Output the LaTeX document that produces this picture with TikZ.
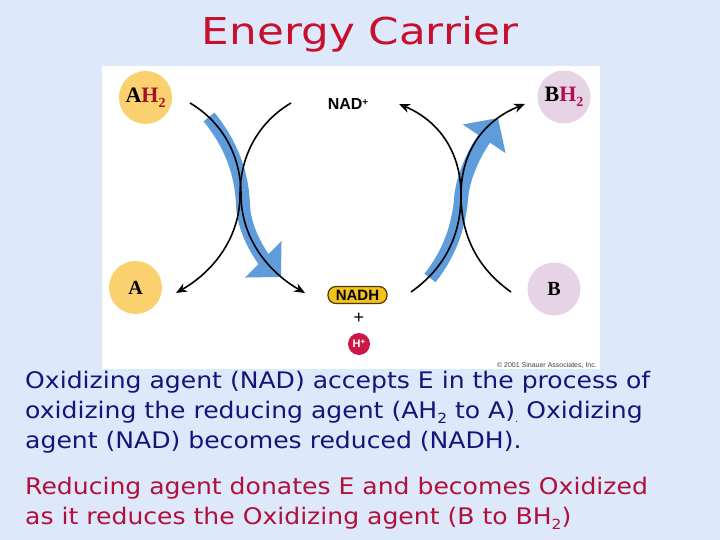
\documentclass[tikz,border=0pt]{standalone}
\usepackage{fontspec}
\setmainfont{DejaVu Sans}[FakeStretch=1.1]
\newfontfamily\titlefont{DejaVu Sans}[FakeStretch=1.18]
\newfontfamily\tnr{Liberation Serif}
\newfontfamily\arl{Liberation Sans}
\usetikzlibrary{arrows.meta}
\definecolor{bgblue}{HTML}{DDE8FA}
\definecolor{titlered}{HTML}{C8102E}
\definecolor{navytxt}{HTML}{14147A}
\definecolor{redtxt}{HTML}{B0103A}
\definecolor{orangec}{HTML}{FBD06F}
\definecolor{purplec}{HTML}{E6D4E6}
\definecolor{bandblue}{HTML}{5E9CDB}
\definecolor{nadhfill}{HTML}{F4C21C}
\definecolor{nadhline}{HTML}{4A3A00}
\definecolor{hred}{HTML}{CC1848}
\definecolor{hdark}{HTML}{A0102A}
\definecolor{hcrim}{HTML}{B0104A}
\newcommand{\dsub}[1]{\raisebox{-5pt}{\fontsize{14}{14}\selectfont #1}}
\tikzset{
  molcirc/.style={circle, minimum size=53pt, inner sep=0pt, font=\tnr\bfseries\fontsize{22}{22}\selectfont},
  bodyline/.style={anchor=base west, inner sep=0pt, font=\fontsize{22.8}{30}\selectfont},
  blk/.style={draw=black, line width=1.6pt, -{Stealth[length=11pt,width=9pt]}},
  band/.style={draw=bandblue, line width=14pt, -{Triangle[length=25pt,width=50pt]}}
}
\begin{document}
\begin{tikzpicture}[x=1pt,y=-1pt]
\fill[bgblue] (0,0) rectangle (720,540);
\useasboundingbox (0,0) rectangle (720,540);
\fill[white] (102,66) rectangle (600,369);

% title
\node[anchor=base, inner sep=0pt, text=titlered, font=\titlefont\fontsize{37}{37}\selectfont] (title) at (360,45) {Energy Carrier};

% molecules
\node[molcirc, fill=orangec] (ah2) at (145.5,97.5) {A{\color{hdark}H\dsub{2}}};
\node[molcirc, fill=purplec] (bh2) at (564,97) {B{\color{hcrim}H\dsub{2}}};
\node[molcirc, fill=orangec, font=\tnr\bfseries\fontsize{20}{20}\selectfont] (a) at (135.5,287.5) {A};
\node[molcirc, fill=purplec, font=\tnr\bfseries\fontsize{20}{20}\selectfont] (b) at (554,289) {B};
\node[inner sep=0pt, font=\arl\bfseries\fontsize{16}{16}\selectfont] (nadp) at (348,104) {NAD\raisebox{4pt}{\fontsize{10}{10}\selectfont +}};
\node[draw=nadhline, line width=1.2pt, fill=nadhfill, rounded corners=8pt, minimum width=59pt, minimum height=17pt, inner sep=0pt, font=\arl\bfseries\fontsize{15}{15}\selectfont] (nadh) at (357.5,295) {NADH};
\node[inner sep=0pt, font=\arl\fontsize{18}{18}\selectfont] (plus) at (359,318) {+};
\node[circle, fill=hred, minimum size=22pt, inner sep=0pt, text=white, font=\arl\bfseries\fontsize{11}{11}\selectfont] (hp) at (359,344) {H\raisebox{3pt}{\fontsize{8}{8}\selectfont +}};
\node[anchor=base east, inner sep=0pt, text=black!75, font=\arl\fontsize{7}{7}\selectfont] (copy) at (597,367) {\textcopyright{} 2001 Sinauer Associates, Inc.};

% coordinates
\coordinate (l1s) at (190,103);  \coordinate (l1e) at (305,293);
\coordinate (l2s) at (291,103);  \coordinate (l2e) at (176,293);
\coordinate (lm1) at (241,195);  \coordinate (lm2) at (240,195);
\coordinate (r1s) at (411,292);  \coordinate (r1e) at (525,104);
\coordinate (r2s) at (511,292);  \coordinate (r2e) at (399,104);
\coordinate (rm) at (461,195);
\coordinate (bls) at (209,117); \coordinate (blm) at (243,205); \coordinate (blt) at (281,277);
\coordinate (brs) at (430,278); \coordinate (brm) at (461,200); \coordinate (brt) at (498,118);

% blue bands
\draw[band] (bls) .. controls (232,145) and (242,175) .. (blm) .. controls (244,235) and (266,262) .. (blt);
\draw[band] (brs) .. controls (448,255) and (458,230) .. (brm) .. controls (463,168) and (484,139) .. (brt);

% black arrows
\draw[blk] (l1s) .. controls (222,122) and (241,155) .. (lm1) .. controls (241,235) and (265,270) .. (l1e);
\draw[blk] (l2s) .. controls (259,122) and (240,155) .. (lm2) .. controls (240,235) and (216,270) .. (l2e);
\draw[blk] (r1s) .. controls (445,268) and (461,235) .. (rm) .. controls (461,150) and (485,120) .. (r1e);
\draw[blk] (r2s) .. controls (477,268) and (461,235) .. (rm) .. controls (461,150) and (437,120) .. (r2e);

% body text
\node[bodyline, text=navytxt] (t1) at (25,388) {Oxidizing agent (NAD) accepts E in the process of};
\node[bodyline, text=navytxt] (t2) at (25,418) {oxidizing the reducing agent (AH\dsub{2} to A)\raisebox{-4pt}{\fontsize{9}{9}\selectfont .} Oxidizing};
\node[bodyline, text=navytxt] (t3) at (25,448) {agent (NAD) becomes reduced (NADH).};
\node[bodyline, text=redtxt] (t4) at (25,494) {Reducing agent donates E and becomes Oxidized};
\node[bodyline, text=redtxt] (t5) at (25,524) {as it reduces the Oxidizing agent (B to BH\dsub{2})};
\end{tikzpicture}
\end{document}
